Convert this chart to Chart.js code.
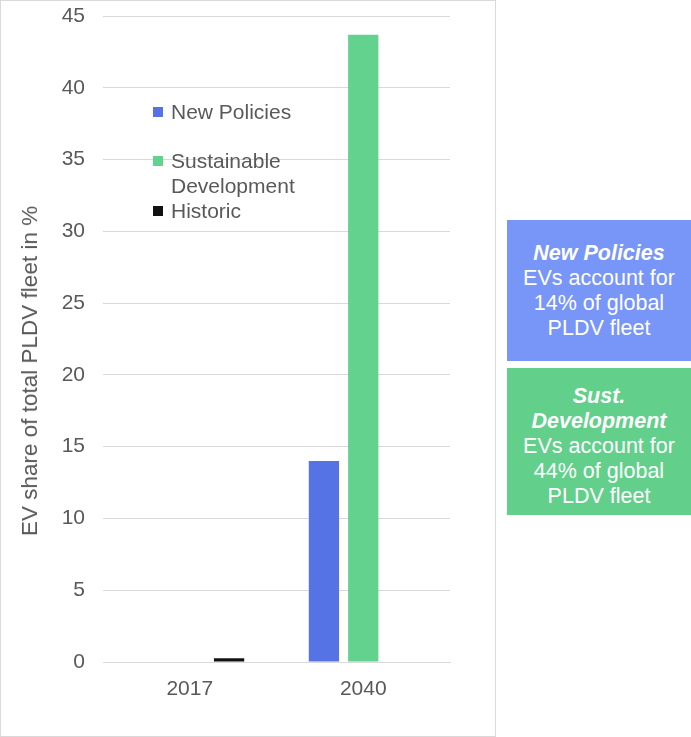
<!DOCTYPE html>
<html>
<head>
<meta charset="utf-8">
<script src="https://cdn.jsdelivr.net/npm/chart.js@4.4.1/dist/chart.umd.min.js"></script>
<style>
	body { margin: 0; background: #fff; font-family: 'Liberation Sans', Arial, sans-serif; }
	#panel { position: absolute; left: 0; top: 0; width: 494px; height: 735px; border: 1px solid #d9d9d9; }
	#legend { position: absolute; left: 0; top: 0; }
	.leg { position: absolute; font-size: 21px; color: #595959; line-height: 25px; white-space: nowrap; }
	.leg span.sw { position: absolute; left: -18px; top: 8px; width: 10px; height: 10px; }
	#ytitle { position: absolute; left: 30px; top: 371px; transform: translate(-50%, -50%) rotate(-90deg); font-size: 22.5px; color: #595959; white-space: nowrap; }
	.box { position: absolute; left: 507px; width: 184px; color: #fff; text-align: center; font-size: 21.5px; line-height: 25px; box-sizing: border-box; }
	.box b { font-style: italic; }
</style>
</head>
<body>
<div id="panel"><canvas id="chart"></canvas></div>
<div id="legend"></div>
<div id="ytitle"></div>
<div class="box" id="box1" style="top:220px;height:141px;background:#7895f8"></div>
<div class="box" id="box2" style="top:368px;height:147px;background:#62cf8b"></div>
<script>
	var categories = ['2017', '2040'];
	var newPolicies = [null, 14.0];
	var sustDevelopment = [null, 43.7];
	var historic = [0.26, null];
	var seriesNames = ['New Policies', 'Sustainable\nDevelopment', 'Historic'];
	var seriesColors = ['#5673e6', '#63d28e', '#111111'];
	var yTicks = [0, 5, 10, 15, 20, 25, 30, 35, 40, 45];
	var yTitle = 'EV share of total PLDV fleet in %';
	var boxTitles = ['New Policies', 'Sust.\nDevelopment'];
	var boxTexts = ['EVs account for\n14% of global\nPLDV fleet', 'EVs account for\n44% of global\nPLDV fleet'];

	var grey = '#595959';
	var uiFont = "'Liberation Sans', Arial, sans-serif";

	var datasets = [newPolicies, sustDevelopment, historic].map(function(d, i) {
		return {
			label: seriesNames[i],
			data: d,
			backgroundColor: seriesColors[i],
			borderWidth: 0,
			categoryPercentage: 0.68,
			barPercentage: 0.77
		};
	});

	var ctx = document.getElementById('chart').getContext('2d');
	var myChart = new Chart(ctx, {
		type: 'bar',
		data: { labels: categories, datasets: datasets },
		options: {
			responsive: true,
			maintainAspectRatio: false,
			animation: false,
			layout: { padding: { left: 8, right: 45, top: 0, bottom: 0 } },
			plugins: { legend: { display: false }, tooltip: { enabled: false } },
			scales: {
				x: {
					grid: { display: false, drawTicks: false },
					border: { display: true, color: '#d9d9d9', width: 1 },
					ticks: { color: grey, font: { family: uiFont, size: 21 }, padding: 15 },
					afterFit: function(scale) { scale.height = 74; }
				},
				y: {
					min: 0,
					max: 45,
					afterBuildTicks: function(scale) {
						scale.ticks = yTicks.map(function(v) { return { value: v }; });
					},
					grid: { color: '#d9d9d9', drawTicks: false },
					border: { display: false },
					ticks: { color: grey, font: { family: uiFont, size: 21 }, padding: 18 },
					afterFit: function(scale) {
						scale.width = 94;
						// tick padding would otherwise push the plot top down
						scale.paddingTop = 15;
					}
				}
			}
		}
	});

	document.getElementById('ytitle').textContent = yTitle;

	// legend sits inside the plot area, like in the original
	var legTops = [99, 148, 198];
	var legend = document.getElementById('legend');
	seriesNames.forEach(function(name, i) {
		var div = document.createElement('div');
		div.className = 'leg';
		div.style.left = '171px';
		div.style.top = legTops[i] + 'px';
		div.innerHTML = '<span class="sw" style="background:' + seriesColors[i] + '"></span>' + name.split('\n').join('<br>');
		legend.appendChild(div);
	});

	[document.getElementById('box1'), document.getElementById('box2')].forEach(function(box, i) {
		box.style.paddingTop = (i == 0 ? 21 : 16) + 'px';
		box.innerHTML = '<b>' + boxTitles[i].split('\n').join('<br>') + '</b><br>' + boxTexts[i].split('\n').join('<br>');
	});
</script>
</body>
</html>
